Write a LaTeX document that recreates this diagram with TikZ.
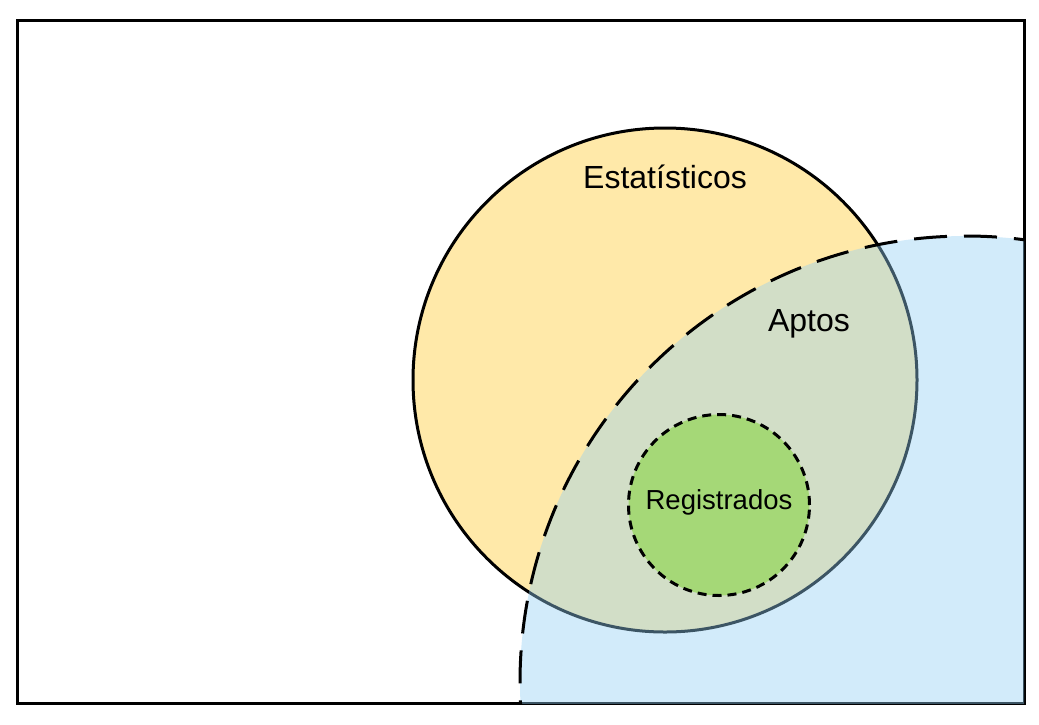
\documentclass[tikz,border=0pt]{standalone}
\usepackage{fontspec}
\setmainfont{Liberation Sans}
\definecolor{estyellow}{HTML}{FFE9A9}
\definecolor{aptblue}{HTML}{92CFF4}
\definecolor{reggreen}{HTML}{A5D877}
\begin{document}
\begin{tikzpicture}[x=1pt,y=-1pt,
  setline/.style={line width=3pt},
  bigdash/.style={dash pattern=on 33pt off 17pt},
  smalldash/.style={dash pattern=on 9pt off 6pt},
  label/.style={font=\fontsize{32}{36}\selectfont, text=black}]
\useasboundingbox (0,0) rectangle (1039,724);
\coordinate (tl) at (17,20);
\coordinate (br) at (1024,703);
\draw[setline, fill=white] (tl) rectangle (br);
% Estatisticos
\node[circle, draw, setline, fill=estyellow, minimum size=504pt, inner sep=0pt] (est) at (665,380) {};
% Aptos (clipped to frame)
\begin{scope}
  \clip (tl) rectangle (br);
  \coordinate (aptc) at (966,682);
  \fill[aptblue, fill opacity=0.41] (aptc) circle (446);
  \draw[setline, bigdash] (aptc) circle (446);
\end{scope}
% Registrados
\node[circle, draw, setline, smalldash, fill=reggreen, minimum size=181pt, inner sep=0pt] (reg) at (719,505) {};
\node[font=\fontsize{27.5}{30}\selectfont] (regt) at (719,502) {Registrados};
\node[label] (estt) at (665,177) {Estatísticos};
\node[label] (aptt) at (809,324) {Aptos};
\end{tikzpicture}
\end{document}
